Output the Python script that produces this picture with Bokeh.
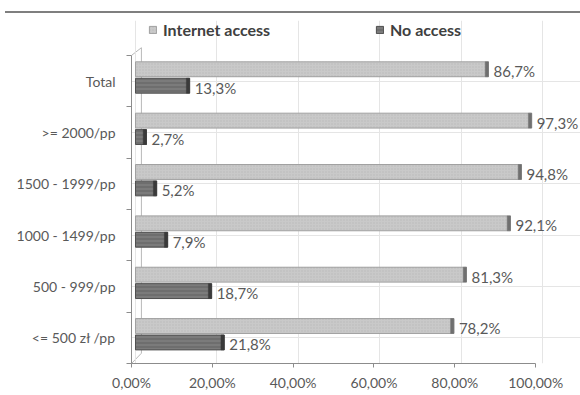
from bokeh.plotting import figure
from bokeh.models import (Range1d, LinearAxis, FixedTicker, Legend, LegendItem,
                          ColumnDataSource, Div)
from bokeh.layouts import column
from bokeh.transform import dodge
from bokeh.core.properties import value
from bokeh.embed import file_html
from bokeh.resources import INLINE

# ---- data ----
categories = ["Total", ">= 2000/pp", "1500 - 1999/pp", "1000 - 1499/pp",
              "500 - 999/pp", "<= 500 zł /pp"]
series = ["Internet access", "No access"]
internet = [86.7, 97.3, 94.8, 92.1, 81.3, 78.2]
no_access = [13.3, 2.7, 5.2, 7.9, 18.7, 21.8]
x_ticks = [0, 20, 40, 60, 80, 100]
x_tick_labels = ["0,00%", "20,00%", "40,00%", "60,00%", "80,00%", "100,00%"]

FONT = "Lato"
TXT = "#595959"
AX = "#8c8c8c"

n = len(categories)
centers = [n - 1 - i for i in range(n)]          # Total on top
y_int = [c + 0.23 for c in centers]
y_no = [c - 0.09 for c in centers]
y_lo, y_hi = -0.5, n - 0.5
x_lo = -0.98
wall = 1.45

def fmt(v):
    return ("%.1f%%" % v).replace(".", ",")

src = ColumnDataSource(dict(
    cat=categories, y_int=y_int, y_no=y_no,
    internet=internet, no_access=no_access,
    lab_int=[fmt(v) for v in internet], lab_no=[fmt(v) for v in no_access],
))

p = figure(width=580, height=381, output_backend="svg", toolbar_location=None,
           x_range=Range1d(x_lo, 109.3), y_range=Range1d(y_lo, y_hi + 0.68),
           x_axis_location=None, y_axis_location=None,
           min_border_left=131, min_border_right=0,
           min_border_top=6, min_border_bottom=32)
p.outline_line_color = None
p.background_fill_color = "white"
p.border_fill_color = "white"

# y axis: labels at category centres, tick marks between categories
yaxis = LinearAxis(
    bounds=(y_lo, y_hi),
    ticker=FixedTicker(ticks=centers, minor_ticks=[c - 0.5 for c in range(n + 1)]),
    major_label_overrides={c: cat for c, cat in zip(centers, categories)},
    axis_line_color=AX, axis_line_width=1,
    major_tick_line_color=None, major_tick_out=0, major_tick_in=0,
    minor_tick_line_color=AX, minor_tick_out=5, minor_tick_in=0,
    major_label_standoff=11,
    major_label_text_font=FONT, major_label_text_font_size="14px",
    major_label_text_color=TXT,
)
p.add_layout(yaxis, "left")

# x axis (percent scale)
p.extra_x_ranges = {"pct": Range1d(0, 111.1)}
xaxis = LinearAxis(
    x_range_name="pct", bounds=(0, 100),
    ticker=FixedTicker(ticks=x_ticks),
    major_label_overrides={t: l for t, l in zip(x_ticks, x_tick_labels)},
    axis_line_color=AX, axis_line_width=1,
    major_tick_line_color=AX, major_tick_out=4, major_tick_in=0,
    minor_tick_line_color=None,
    major_label_standoff=6,
    major_label_text_font=FONT, major_label_text_font_size="14px",
    major_label_text_color=TXT,
)
p.add_layout(xaxis, "below")

# back wall / floor edges of the 3-D chart
p.segment(x0=[wall, x_lo, x_lo], y0=[y_lo + 0.2, y_hi, y_lo],
          x1=[wall, wall, wall], y1=[y_hi + 0.15, y_hi + 0.15, y_lo + 0.2],
          line_color="#b8b8b8", line_width=1, level="underlay")

# bars
r_int = p.hbar(y="y_int", left=0, right="internet", height=0.29, source=src,
               fill_color="#c9c9c9", line_color="#a0a0a0", line_width=1,
               hatch_pattern="dot", hatch_color="#b8b8b8", hatch_scale=3,
               hatch_weight=0.6)
p.hbar(y="y_int", left=dodge("internet", -0.8), right="internet", height=0.29,
       source=src, fill_color="#707070", line_color="#707070", line_width=0.5)

r_no = p.hbar(y="y_no", left=0, right="no_access", height=0.29, source=src,
              fill_color="#6e6e6e", line_color="#4f4f4f", line_width=1,
              hatch_pattern="horizontal_line", hatch_color="#8e8e8e",
              hatch_scale=4, hatch_weight=0.8)
p.hbar(y="y_no", left=dodge("no_access", -0.8), right="no_access", height=0.29,
       source=src, fill_color="#3a3a3a", line_color="#3a3a3a", line_width=0.5)

# value labels
for xf, yf, lf in (("internet", "y_int", "lab_int"), ("no_access", "y_no", "lab_no")):
    p.text(x=xf, y=yf, text=lf, source=src, x_offset=5, y_offset=2,
           text_baseline="middle", text_align="left",
           text_font=value(FONT), text_font_size="15px", text_color=TXT)

# legends
def make_legend(label, rend, loc):
    return Legend(items=[LegendItem(label=label, renderers=[rend])],
                  location=loc, orientation="horizontal", padding=0, margin=0,
                  border_line_color=None, background_fill_alpha=0,
                  glyph_width=9, glyph_height=9, label_standoff=6, spacing=0,
                  label_text_font=FONT, label_text_font_size="16px",
                  label_text_font_style="bold", label_text_color="#404040")

p.add_layout(make_legend(series[0], r_int, (17, 324)))
p.add_layout(make_legend(series[1], r_no, (244, 324)))

top = Div(text='<div style="border-top:2px solid #7f7f7f;margin:11px 0 0 5px;width:575px;"></div>',
          width=580, height=14, margin=0)

layout = column(top, p, spacing=0)
open("out.html", "w").write(file_html(layout, INLINE))
